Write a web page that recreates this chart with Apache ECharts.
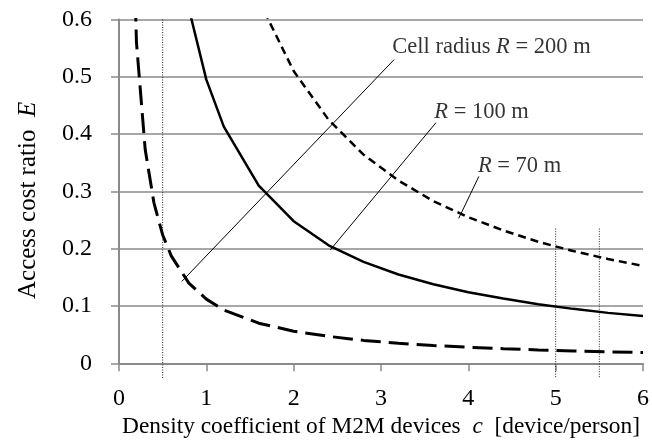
<!DOCTYPE html>
<html>
<head>
<meta charset="utf-8">
<script src="https://cdn.jsdelivr.net/npm/echarts@6/dist/echarts.min.js"></script>
<style>
  html, body { margin: 0; padding: 0; background: #fff; }
  #chart { width: 652px; height: 446px; }
</style>
</head>
<body>
<div id="chart"></div>
<script>
// curve R = 200 m (long dash)
const cR200 = [0.1, 0.2, 0.3, 0.4, 0.5, 0.6, 0.8, 1.0, 1.2, 1.6, 2.0, 2.4, 2.8, 3.2, 3.6, 4.0, 4.4, 4.8, 5.2, 5.6, 6.0];
const eR200 = [1.12, 0.56, 0.373, 0.28, 0.224, 0.187, 0.14, 0.112, 0.093, 0.07, 0.056, 0.047, 0.04, 0.035, 0.031, 0.028, 0.0255, 0.0233, 0.0215, 0.02, 0.0187];

// curve R = 100 m (solid)
const cR100 = [0.8, 1.0, 1.2, 1.6, 2.0, 2.4, 2.8, 3.2, 3.6, 4.0, 4.4, 4.8, 5.2, 5.6, 6.0];
const eR100 = [0.619, 0.495, 0.413, 0.31, 0.248, 0.206, 0.177, 0.155, 0.138, 0.124, 0.113, 0.103, 0.095, 0.088, 0.0825];

// curve R = 70 m (short dash)
const cR70 = [1.6, 2.0, 2.4, 2.8, 3.2, 3.6, 4.0, 4.4, 4.8, 5.2, 5.6, 6.0];
const eR70 = [0.634, 0.51, 0.425, 0.364, 0.319, 0.283, 0.255, 0.232, 0.212, 0.196, 0.182, 0.17];

// dotted vertical guides
const guideC = [0.5, 5, 5.5];
const guideTop = [0.6, 0.235, 0.235];
const guideBottom = [-0.026, -0.026, -0.026];

// annotation labels and their leader lines
const annoText = ['Cell radius {i|R} = 200 m', '{i|R} = 100 m', '{i|R} = 70 m'];
const annoC = [3.13, 3.61, 4.11];
const annoE = [0.551, 0.4385, 0.345];
const leaderFrom = [[0.72, 0.143], [2.42, 0.198], [3.89, 0.253]];
const leaderTo = [[3.15, 0.53], [3.63, 0.42], [4.12, 0.326]];

const xTicks = [0, 1, 2, 3, 4, 5, 6];
const yTicks = [0, 0.1, 0.2, 0.3, 0.4, 0.5, 0.6];

const FONT = '"Liberation Serif", "Times New Roman", serif';
const GRAY = '#8a8a8a';
const FS = 24;

const zip = (xs, ys) => xs.map((x, i) => [x, ys[i]]);
const italic = size => ({ fontStyle: 'italic', fontFamily: FONT, fontSize: size, color: '#000' });

const series = [];

guideC.forEach((c, i) => {
  series.push({
    type: 'line',
    data: [[c, guideTop[i]], [c, guideBottom[i]]],
    clip: false,
    symbol: 'none',
    silent: true,
    lineStyle: { color: '#222', width: 1, type: [1, 1.5] },
    z: 3
  });
});

series.push({
  name: 'R200',
  type: 'line',
  data: zip(cR200, eR200),
  symbol: 'none',
  lineStyle: { color: '#000', width: 3, type: [20, 8] },
  z: 4
});
series.push({
  name: 'R100',
  type: 'line',
  data: zip(cR100, eR100),
  symbol: 'none',
  lineStyle: { color: '#000', width: 2.5 },
  z: 4
});
series.push({
  name: 'R70',
  type: 'line',
  data: zip(cR70, eR70),
  symbol: 'none',
  lineStyle: { color: '#000', width: 2.5, type: [8, 5] },
  z: 4
});

leaderFrom.forEach((p, i) => {
  series.push({
    type: 'line',
    data: [p, leaderTo[i]],
    symbol: 'none',
    silent: true,
    lineStyle: { color: '#000', width: 1 },
    z: 5
  });
});

series.push({
  type: 'scatter',
  data: annoC.map((c, i) => ({
    value: [c, annoE[i]],
    label: { formatter: annoText[i] }
  })),
  symbolSize: 0,
  silent: true,
  label: {
    show: true,
    position: 'inside',
    align: 'left',
    verticalAlign: 'middle',
    color: '#000',
    fontFamily: FONT,
    fontSize: 22.5,
    rich: { i: italic(22.5) }
  },
  z: 6
});

const chart = echarts.init(document.getElementById('chart'), null, { renderer: 'canvas' });

chart.setOption({
  animation: false,
  backgroundColor: '#fff',
  grid: { left: 119, right: 9, top: 19.5, bottom: 82.7, containLabel: false },
  xAxis: {
    type: 'value',
    min: xTicks[0],
    max: xTicks[xTicks.length - 1],
    interval: 1,
    name: 'Density coefficient of M2M devices  {i|c}  [device/person]',
    nameLocation: 'middle',
    nameGap: 52,
    nameTextStyle: {
      fontFamily: FONT,
      fontSize: 23.4,
      color: '#000',
      rich: { i: italic(23.4) }
    },
    axisLine: { show: true, lineStyle: { color: GRAY, width: 2 } },
    axisTick: { show: true, inside: false, length: 8, lineStyle: { color: GRAY, width: 1.5 } },
    axisLabel: { margin: 23, color: '#000', fontFamily: FONT, fontSize: FS },
    splitLine: { show: false }
  },
  yAxis: {
    type: 'value',
    min: yTicks[0],
    max: yTicks[yTicks.length - 1],
    interval: 0.1,
    name: 'Access cost ratio  {i|E}',
    nameLocation: 'middle',
    nameGap: 78,
    nameTextStyle: {
      fontFamily: FONT,
      fontSize: 25,
      color: '#000',
      padding: [0, 18, 0, 0],
      rich: { i: italic(25) }
    },
    axisLine: { show: true, lineStyle: { color: GRAY, width: 2 } },
    axisTick: { show: true, inside: false, length: 8, lineStyle: { color: GRAY, width: 1.5 } },
    axisLabel: {
      margin: 27,
      color: '#000',
      fontFamily: FONT,
      fontSize: FS,
      formatter: v => (v === 0 ? '0' : v.toFixed(1))
    },
    splitLine: { show: true, lineStyle: { color: GRAY, width: 1.5 } }
  },
  series: series
});
</script>
</body>
</html>
